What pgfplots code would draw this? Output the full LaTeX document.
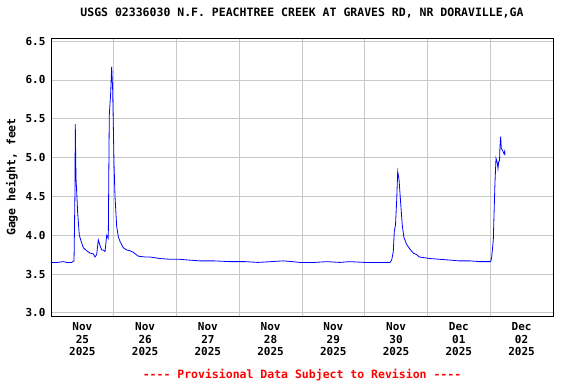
\documentclass[border=0pt]{standalone}
\usepackage{pgfplots}
\pgfplotsset{compat=1.18}
\usepackage{fontspec}
\setmainfont{DejaVu Sans Mono}
\definecolor{gridgray}{RGB}{200,200,200}
\definecolor{lineblue}{RGB}{0,0,255}
\begin{document}
\begin{tikzpicture}
\path[use as bounding box] (0,0) rectangle (576pt,384pt);
\begin{axis}[
  at={(51pt,68pt)}, anchor=south west,
  scale only axis, width=502pt, height=278pt,
  xmin=0, xmax=8, ymin=2.96, ymax=6.54,
  xtick={0.5,1.5,2.5,3.5,4.5,5.5,6.5,7.5},
  xticklabels={{Nov\\25\\2025},{Nov\\26\\2025},{Nov\\27\\2025},{Nov\\28\\2025},{Nov\\29\\2025},{Nov\\30\\2025},{Dec\\01\\2025},{Dec\\02\\2025}},
  minor xtick={1,2,3,4,5,6,7},
  xminorgrids=true, xmajorgrids=false,
  ytick={3.0,3.5,4.0,4.5,5.0,5.5,6.0,6.5},
  ymajorgrids=true,
  grid style={gridgray, line width=0.8pt},
  minor grid style={gridgray, line width=0.8pt},
  major tick length=0pt, minor tick length=0pt,
  axis line style={black, line width=0.9pt},
  /pgf/number format/assume math mode=true,
  yticklabel={\pgfmathprintnumber[fixed,precision=1,zerofill]{\tick}},
  yticklabel style={font=\fontsize{11}{12}\selectfont\bfseries, xshift=-2pt},
  xticklabel style={font=\fontsize{11}{12.5}\selectfont\bfseries, align=center, yshift=-3pt},
  ylabel={Gage height, feet},
  ylabel style={at={(axis description cs:-0.078,0.5)}, anchor=center, font=\fontsize{11.5}{12}\selectfont\bfseries},
  title={USGS 02336030 N.F. PEACHTREE CREEK AT GRAVES RD, NR DORAVILLE,GA},
  title style={at={(axis description cs:0.5,1.068)}, anchor=center, font=\fontsize{11.5}{12}\selectfont\bfseries},
  clip=true,
]
\addplot[lineblue, line width=0.8pt] coordinates {
(0.000,3.65) (0.100,3.65) (0.200,3.66) (0.250,3.65) (0.330,3.65) (0.367,3.67)
(0.382,4.56) (0.387,5.43) (0.398,4.74) (0.410,4.55) (0.425,4.29) (0.451,4.00)
(0.473,3.94) (0.515,3.84) (0.569,3.80) (0.622,3.77) (0.674,3.76) (0.701,3.72)
(0.728,3.75) (0.754,3.94) (0.781,3.87) (0.808,3.81) (0.833,3.81) (0.861,3.79)
(0.888,4.00) (0.913,3.96) (0.929,5.55) (0.951,5.83) (0.967,6.17) (0.983,5.87)
(1.004,4.93) (1.020,4.50) (1.047,4.11) (1.073,3.98) (1.100,3.92) (1.152,3.84)
(1.206,3.81) (1.259,3.80) (1.312,3.78) (1.391,3.73) (1.500,3.72) (1.578,3.72)
(1.737,3.70) (1.900,3.69) (2.056,3.69) (2.200,3.68) (2.375,3.67) (2.600,3.67)
(2.850,3.66) (3.100,3.66) (3.300,3.65) (3.500,3.66) (3.700,3.67) (3.850,3.66)
(3.970,3.65) (4.200,3.65) (4.400,3.66) (4.600,3.65) (4.760,3.66) (5.000,3.65)
(5.200,3.65) (5.402,3.65) (5.429,3.68) (5.455,3.79) (5.471,4.05) (5.490,4.13)
(5.509,4.45) (5.525,4.82) (5.546,4.72) (5.573,4.41) (5.598,4.13) (5.625,3.97)
(5.669,3.88) (5.721,3.82) (5.774,3.77) (5.828,3.75) (5.869,3.72) (6.040,3.70)
(6.200,3.69) (6.358,3.68) (6.500,3.67) (6.677,3.67) (6.837,3.66) (7.007,3.66)
(7.023,3.72) (7.049,3.94) (7.060,4.26) (7.076,4.69) (7.092,4.99) (7.113,4.93)
(7.124,4.86) (7.135,4.95) (7.148,4.96) (7.155,5.14) (7.166,5.27) (7.176,5.12)
(7.198,5.09) (7.219,5.05) (7.230,5.08) (7.235,5.03)
};
\end{axis}
\node[anchor=center, text=red, font=\fontsize{11.5}{12}\selectfont\bfseries] at (302pt,9pt) {-{}-{}-{}- Provisional Data Subject to Revision -{}-{}-{}-};
\end{tikzpicture}
\end{document}
